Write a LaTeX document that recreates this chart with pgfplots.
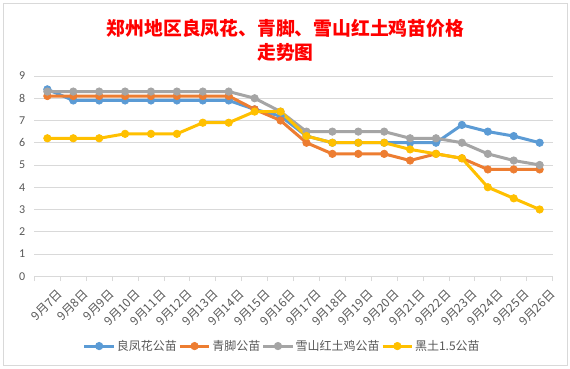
\documentclass[border=0pt]{standalone}
\usepackage{fontspec}
\setmainfont{Carlito}
\newfontfamily\cjk{Noto Sans CJK SC}
\usepackage{pgfplots}
\pgfplotsset{compat=1.18}
\definecolor{c1}{HTML}{5B9BD5}
\definecolor{c2}{HTML}{ED7D31}
\definecolor{c3}{HTML}{A5A5A5}
\definecolor{c4}{HTML}{FFC000}
\definecolor{gridc}{HTML}{D9D9D9}
\definecolor{txt}{HTML}{595959}
\begin{document}
\begin{tikzpicture}
\fill[white] (0pt,0pt) rectangle (570pt,369pt);
\draw[gridc, line width=0.75pt] (3.5pt,3.5pt) rectangle (567pt,365.5pt);
\node[text=red, font=\cjk\bfseries\fontsize{18.8}{24.5}\selectfont, align=center] at (285.5pt,328.5pt) {郑州地区良凤花、青脚、雪山红土鸡苗价格\\走势图};
\begin{axis}[
  at={(34.4pt,92.8pt)}, anchor=south west, scale only axis,
  width=518.2pt, height=200.2pt,
  xmin=-0.5, xmax=19.5, ymin=0, ymax=9,
  axis x line*=bottom, axis y line*=left,
  y axis line style={draw=none},
  x axis line style={draw=gridc, line width=0.75pt, -},
  xtick={0,...,19},
  xticklabels={9月7日,9月8日,9月9日,9月10日,9月11日,9月12日,9月13日,9月14日,9月15日,9月16日,9月17日,9月18日,9月19日,9月20日,9月21日,9月22日,9月23日,9月24日,9月25日,9月26日},
  minor xtick={-0.5,0.5,...,19.5},
  tick align=outside,
  major tick length=0pt,
  minor tick length=5pt,
  minor x tick style={draw=gridc, line width=0.75pt},
  ytick={0,...,9},
  ytick style={draw=none},
  ymajorgrids,
  major grid style={draw=gridc, line width=0.75pt},
  /pgf/number format/assume math mode=true,
  yticklabel style={font=\fontsize{12}{12}\selectfont, text=txt, inner sep=0pt, xshift=-9pt},
  xticklabel style={rotate=45, anchor=north east, font=\cjk\fontsize{12}{12}\selectfont, text=txt, inner sep=0pt, yshift=-15pt, xshift=-2pt},
  legend style={at={(0.478,-0.349)}, anchor=center, draw=none, fill=none,
    font=\cjk\fontsize{12}{14}\selectfont, text=txt, inner sep=0pt,
    nodes={inner sep=1.5pt},
    /tikz/every even column/.append style={column sep=0pt}},
  legend columns=4,
  legend cell align=left,
  legend image code/.code={\draw[#1, mark repeat=2, mark phase=2] plot coordinates {(0pt,0pt) (14.7pt,0pt) (29.4pt,0pt)};},
  every axis plot/.append style={line width=3pt, mark=*, mark size=3.7pt},
  clip=false,
]
\addplot[c1, mark options={solid, fill=c1, draw=c1, line width=0.75pt}] coordinates {
(0,8.4)(1,7.9)(2,7.9)(3,7.9)(4,7.9)(5,7.9)(6,7.9)(7,7.9)(8,7.5)(9,7.2)
(10,6.3)(11,6.0)(12,6.0)(13,6.0)(14,6.0)(15,6.0)(16,6.8)(17,6.5)(18,6.3)(19,6.0)};
\addlegendentry{良凤花公苗}
\addplot[c2, mark options={solid, fill=c2, draw=c2, line width=0.75pt}] coordinates {
(0,8.1)(1,8.1)(2,8.1)(3,8.1)(4,8.1)(5,8.1)(6,8.1)(7,8.1)(8,7.5)(9,7.0)
(10,6.0)(11,5.5)(12,5.5)(13,5.5)(14,5.2)(15,5.5)(16,5.3)(17,4.8)(18,4.8)(19,4.8)};
\addlegendentry{青脚公苗}
\addplot[c3, mark options={solid, fill=c3, draw=c3, line width=0.75pt}] coordinates {
(0,8.3)(1,8.3)(2,8.3)(3,8.3)(4,8.3)(5,8.3)(6,8.3)(7,8.3)(8,8.0)(9,7.4)
(10,6.5)(11,6.5)(12,6.5)(13,6.5)(14,6.2)(15,6.2)(16,6.0)(17,5.5)(18,5.2)(19,5.0)};
\addlegendentry{雪山红土鸡公苗}
\addplot[c4, mark options={solid, fill=c4, draw=c4, line width=0.75pt}] coordinates {
(0,6.2)(1,6.2)(2,6.2)(3,6.4)(4,6.4)(5,6.4)(6,6.9)(7,6.9)(8,7.4)(9,7.4)
(10,6.3)(11,6.0)(12,6.0)(13,6.0)(14,5.7)(15,5.5)(16,5.3)(17,4.0)(18,3.5)(19,3.0)};
\addlegendentry{黑土1.5公苗}
\end{axis}
\end{tikzpicture}
\end{document}
